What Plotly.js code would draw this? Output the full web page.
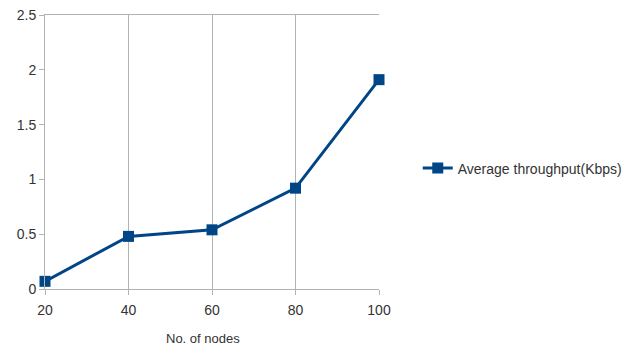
<!DOCTYPE html>
<html>
<head>
<meta charset="utf-8">
<script src="https://cdn.plot.ly/plotly-3.0.1.min.js"></script>
<style>
  html, body { margin: 0; padding: 0; background: #fff; }
  #chart { width: 632px; height: 349px; }
</style>
</head>
<body>
<div id="chart"></div>
<script>
// Number of nodes in the network and the measured throughput
const nodes = [20, 40, 60, 80, 100];
const throughput = [0.07, 0.48, 0.54, 0.92, 1.91];
const seriesName = 'Average throughput(Kbps)';
const xTicks = [20, 40, 60, 80, 100];
const yTicks = [0, 0.5, 1, 1.5, 2, 2.5];

const blue = '#004586';
const grid = '#b3b3b3';
const family = 'Liberation Sans, Arial, sans-serif';
const font = { family: family, size: 13, color: '#333333' };
const tickFont = { family: family, size: 14, color: '#333333' };

const trace = {
  x: nodes,
  y: throughput,
  name: seriesName,
  type: 'scatter',
  mode: 'lines+markers',
  cliponaxis: false,
  line: { color: blue, width: 3 },
  marker: { color: blue, symbol: 'square', size: 11 }
};

const layout = {
  width: 632,
  height: 349,
  margin: { l: 45, r: 253, t: 15, b: 60, autoexpand: false },
  paper_bgcolor: '#ffffff',
  plot_bgcolor: '#ffffff',
  font: font,
  showlegend: true,
  legend: {
    x: 1.116, xanchor: 'left',
    y: 0.44, yanchor: 'middle',
    bgcolor: 'rgba(0,0,0,0)',
    font: tickFont
  },
  xaxis: {
    range: [20, 100],
    tickvals: xTicks,
    ticktext: xTicks.map(String),
    tickfont: tickFont,
    ticklabelstandoff: 3,
    showgrid: true,
    gridcolor: grid,
    gridwidth: 1,
    showline: true,
    linecolor: grid,
    linewidth: 1,
    mirror: true,
    ticks: 'outside',
    ticklen: 5,
    tickcolor: grid,
    zeroline: false,
    fixedrange: true
  },
  yaxis: {
    range: [0, 2.5],
    tickvals: yTicks,
    ticktext: yTicks.map(String),
    tickfont: tickFont,
    showgrid: false,
    showline: true,
    linecolor: grid,
    linewidth: 1,
    ticks: 'outside',
    ticklen: 5,
    tickcolor: grid,
    zeroline: false,
    fixedrange: true
  },
  annotations: [{
    text: 'No. of nodes',
    xref: 'paper', yref: 'paper',
    x: (203 - 45) / 334, y: 0,
    xanchor: 'center', yanchor: 'middle',
    yshift: -49,
    showarrow: false,
    font: font
  }]
};

Plotly.newPlot('chart', [trace], layout, { displayModeBar: false, staticPlot: true });
</script>
</body>
</html>
